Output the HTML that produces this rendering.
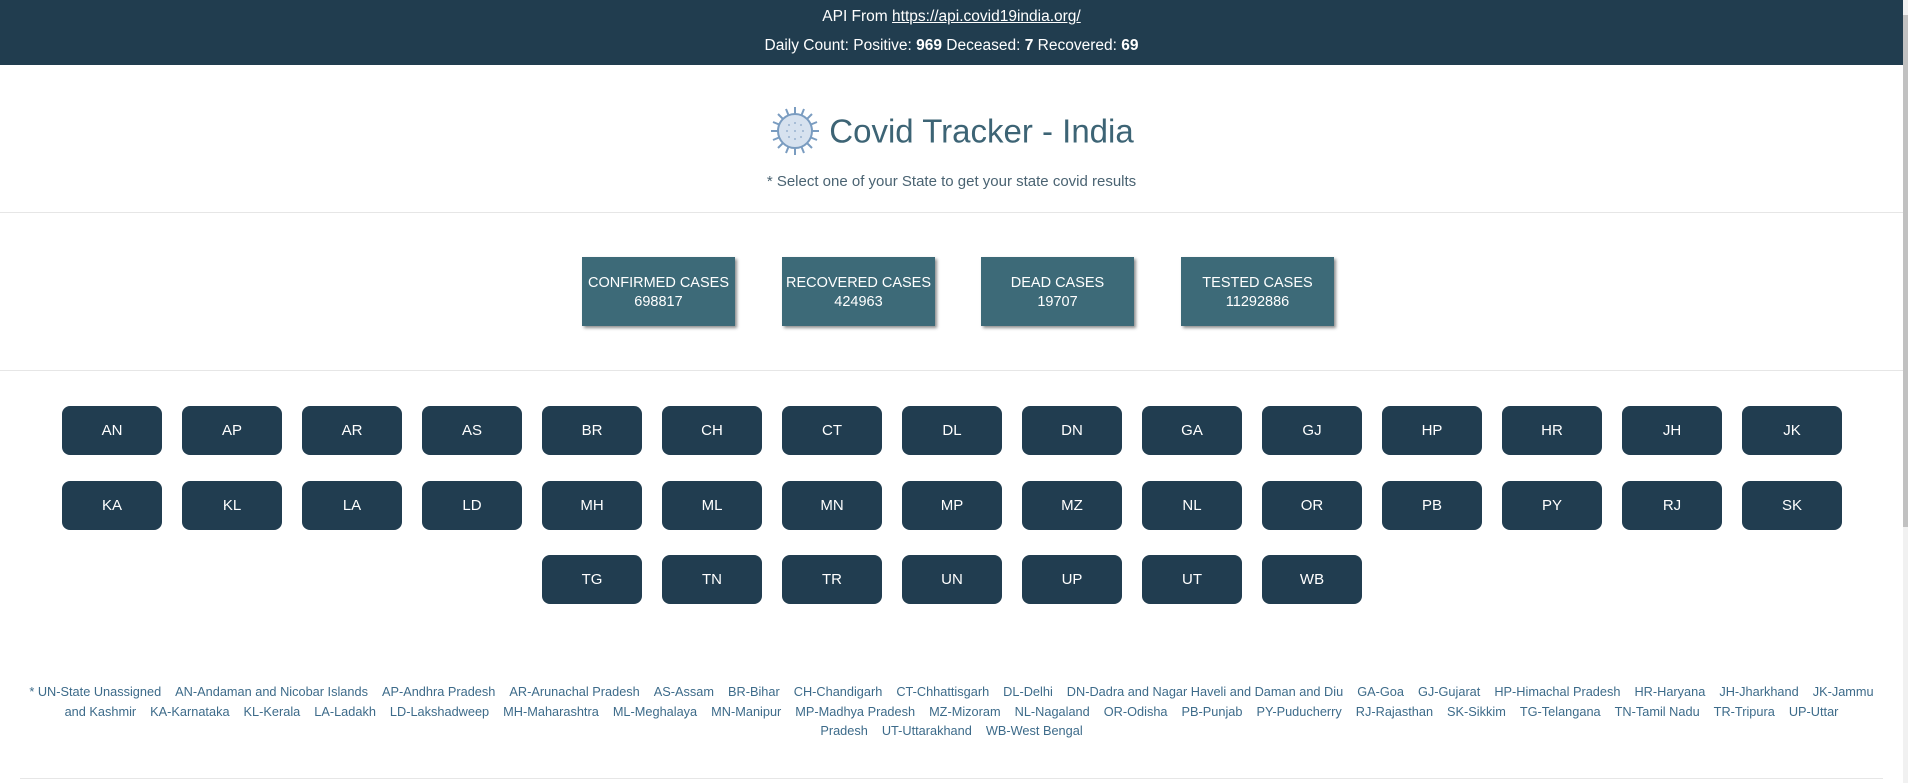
<!DOCTYPE html>
<html><head><meta charset="utf-8">
<style>
html,body{margin:0;padding:0;width:1908px;height:783px;overflow:hidden;background:#fff;font-family:"Liberation Sans",sans-serif;}
#hdr{position:absolute;left:0;top:0;width:1903px;height:65px;background:#213d4f;color:#fff;text-align:center;font-size:15.5px;}
#hdr .l1{position:absolute;top:8px;width:100%;}
#hdr .l2{position:absolute;top:37px;width:100%;}
#hdr a{color:#fff;text-decoration:underline;}
#title{position:absolute;top:108px;left:0;width:1903px;text-align:center;color:#3d6475;font-size:33px;}
#title svg{vertical-align:middle;margin-right:8px;position:relative;top:-3px;}
#sub{position:absolute;top:173px;width:1903px;text-align:center;color:#4a6372;font-size:15px;}
.hr{position:absolute;left:0;width:1903px;height:1px;background:#e6e6e6;}
.card{position:absolute;top:257px;width:153px;height:69px;background:#3d6a78;color:#fff;text-align:center;font-size:14.5px;line-height:19px;box-shadow:2px 2px 3px rgba(0,0,0,.45);box-sizing:border-box;padding-top:17px;}
.btn{position:absolute;width:100px;height:49px;background:#213d50;color:#fff;border-radius:8px;font-size:15px;line-height:49px;text-align:center;}
#foot{position:absolute;top:682px;left:0;width:1903px;text-align:center;color:#3d6b8a;font-size:12.75px;line-height:19.5px;white-space:nowrap;}
#foot span{margin:0 7px;}
#sb{position:absolute;left:1903px;top:0;width:5px;height:783px;background:#f1f1f1;}
#sbt{position:absolute;left:1903px;top:15px;width:5px;height:512px;background:#c1c1c1;}
</style></head><body>
<div id="hdr">
<div class="l1">API From <a href="#">https://api.covid19india.org/</a></div>
<div class="l2">Daily Count: Positive: <b>969</b> Deceased: <b>7</b> Recovered: <b>69</b></div>
</div>
<div id="title"><svg width="52" height="52" viewBox="0 0 52 52">
<g stroke="#7a9cc0" stroke-width="2" fill="none">
<line x1="26" y1="2" x2="26" y2="50"/><line x1="2" y1="26" x2="50" y2="26"/><line x1="9" y1="9" x2="43" y2="43"/><line x1="43" y1="9" x2="9" y2="43"/>
<line x1="17" y1="4" x2="35" y2="48"/><line x1="35" y1="4" x2="17" y2="48"/><line x1="4" y1="17" x2="48" y2="35"/><line x1="4" y1="35" x2="48" y2="17"/>
</g>
<circle cx="26" cy="26" r="17" fill="#d7e2ef" stroke="#7a9cc0" stroke-width="2"/>
<g fill="#9ab3cf"><circle cx="20" cy="20" r="1"/><circle cx="26" cy="18" r="1"/><circle cx="32" cy="20" r="1"/><circle cx="18" cy="26" r="1"/><circle cx="26" cy="26" r="1"/><circle cx="34" cy="26" r="1"/><circle cx="20" cy="32" r="1"/><circle cx="26" cy="34" r="1"/><circle cx="32" cy="32" r="1"/></g>
</svg>Covid Tracker - India</div>
<div id="sub">* Select one of your State to get your state covid results</div>
<div class="hr" style="top:212px"></div>
<div class="card" style="left:582px">CONFIRMED CASES<br>698817</div>
<div class="card" style="left:782px">RECOVERED CASES<br>424963</div>
<div class="card" style="left:981px">DEAD CASES<br>19707</div>
<div class="card" style="left:1181px">TESTED CASES<br>11292886</div>
<div class="hr" style="top:370px"></div>
<div id="btns"></div>
<div id="foot">
<div>* UN-State Unassigned<span></span>AN-Andaman and Nicobar Islands<span></span>AP-Andhra Pradesh<span></span>AR-Arunachal Pradesh<span></span>AS-Assam<span></span>BR-Bihar<span></span>CH-Chandigarh<span></span>CT-Chhattisgarh<span></span>DL-Delhi<span></span>DN-Dadra and Nagar Haveli and Daman and Diu<span></span>GA-Goa<span></span>GJ-Gujarat<span></span>HP-Himachal Pradesh<span></span>HR-Haryana<span></span>JH-Jharkhand<span></span>JK-Jammu</div>
<div>and Kashmir<span></span>KA-Karnataka<span></span>KL-Kerala<span></span>LA-Ladakh<span></span>LD-Lakshadweep<span></span>MH-Maharashtra<span></span>ML-Meghalaya<span></span>MN-Manipur<span></span>MP-Madhya Pradesh<span></span>MZ-Mizoram<span></span>NL-Nagaland<span></span>OR-Odisha<span></span>PB-Punjab<span></span>PY-Puducherry<span></span>RJ-Rajasthan<span></span>SK-Sikkim<span></span>TG-Telangana<span></span>TN-Tamil Nadu<span></span>TR-Tripura<span></span>UP-Uttar</div>
<div>Pradesh<span></span>UT-Uttarakhand<span></span>WB-West Bengal</div>
</div>
<div class="hr" style="top:778px;left:20px;width:1863px"></div>
<div id="sb"></div>
<div id="sbt"></div>
<script>
const states=["AN","AP","AR","AS","BR","CH","CT","DL","DN","GA","GJ","HP","HR","JH","JK","KA","KL","LA","LD","MH","ML","MN","MP","MZ","NL","OR","PB","PY","RJ","SK","TG","TN","TR","UN","UP","UT","WB"];
const c=document.getElementById('btns');
states.forEach((s,i)=>{
  const row=Math.floor(i/15), col=i%15;
  const n=Math.min(15,states.length-row*15);
  const start=952-(n*120-20)/2;
  const b=document.createElement('div');
  b.className='btn';
  b.style.left=(start+col*120)+'px';
  b.style.top=(406+row*74.5)+'px';
  b.textContent=s;
  
  
  c.appendChild(b);
});
</script>
</body></html>
